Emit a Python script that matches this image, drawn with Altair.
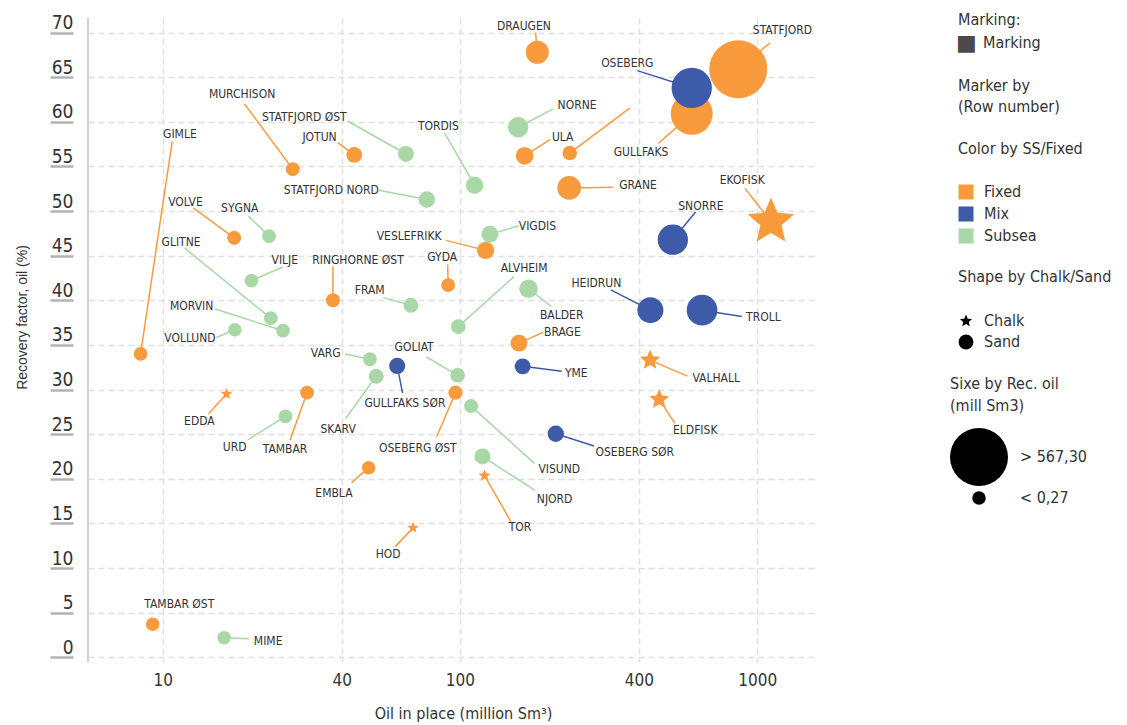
import math
import altair as alt
import pandas as pd

# ---------------- data ----------------
names = ["DRAUGEN", "STATFJORD", "OSEBERG", "GULLFAKS", "MURCHISON", "STATFJORD ØST",
         "JOTUN", "TORDIS", "NORNE", "ULA", "", "GIMLE", "GRANE", "STATFJORD NORD",
         "EKOFISK", "SNORRE", "VOLVE", "SYGNA", "VIGDIS", "VESLEFRIKK", "GLITNE", "VILJE",
         "RINGHORNE ØST", "GYDA", "ALVHEIM", "FRAM", "BALDER", "HEIDRUN", "TROLL", "MORVIN",
         "VOLLUND", "BRAGE", "VARG", "GOLIAT", "GULLFAKS SØR", "YME", "VALHALL", "EDDA",
         "SKARV", "TAMBAR", "OSEBERG ØST", "URD", "ELDFISK", "OSEBERG SØR", "VISUND",
         "EMBLA", "NJORD", "TOR", "HOD", "TAMBAR ØST", "MIME"]

oil_in_place = [182, 863, 602, 602, 27.4, 65.8, 44.1, 112, 157, 165, 234, 8.43, 233, 77.4,
                1112, 520, 17.4, 22.8, 126, 122, 23.1, 19.9, 37.4, 91.3, 98.7, 68.4, 170,
                437, 652, 25.4, 17.5, 158, 49.8, 98.2, 61.5, 162.5, 436, 16.4, 52.3, 30.6,
                96.6, 25.9, 468, 210, 109, 49.3, 119, 121, 69.5, 9.26, 16.1]

recovery = [67.8, 65.9, 63.8, 60.9, 54.7, 56.4, 56.3, 52.9, 59.4, 56.2, 56.5, 34.0, 52.6,
            51.3, 48.8, 46.8, 47.0, 47.2, 47.4, 45.6, 38.0, 42.2, 40.0, 41.7, 37.05, 39.45,
            41.3, 38.9, 38.9, 36.6, 36.7, 35.2, 33.4, 31.6, 32.65, 32.6, 33.3, 29.5, 31.5,
            29.65, 29.65, 27.0, 28.9, 25.05, 28.15, 21.25, 22.5, 20.35, 14.5, 3.7, 2.2]

rec_oil = [130, 567.3, 335, 355, 15, 45, 42, 62, 100, 68, 25, 3, 137, 52, 548, 214, 16, 11,
           58, 62, 9, 8, 16, 13, 27, 31, 78, 164, 218, 9, 6, 58, 12, 27, 48, 46, 150, 1, 32,
           9, 20, 7, 145, 50, 14, 0.5, 45, 24, 4, 0.3, 0.35]

facility = ["Fixed", "Fixed", "Mix", "Fixed", "Fixed", "Subsea", "Fixed", "Subsea", "Subsea",
            "Fixed", "Fixed", "Fixed", "Fixed", "Subsea", "Fixed", "Mix", "Fixed", "Subsea",
            "Subsea", "Fixed", "Subsea", "Subsea", "Fixed", "Fixed", "Subsea", "Subsea",
            "Subsea", "Mix", "Mix", "Subsea", "Subsea", "Fixed", "Subsea", "Subsea", "Mix",
            "Mix", "Fixed", "Fixed", "Subsea", "Fixed", "Fixed", "Subsea", "Fixed", "Mix",
            "Subsea", "Fixed", "Subsea", "Fixed", "Fixed", "Fixed", "Subsea"]

chalk_fields = ["EKOFISK", "VALHALL", "EDDA", "ELDFISK", "TOR", "HOD"]
rock = ["Chalk" if n in chalk_fields else "Sand" for n in names]

categories = ["Fixed", "Mix", "Subsea"]
palette = ["#F99A3D", "#3D5BA9", "#A8D8A6"]

x_ticks = [10, 40, 100, 400, 1000]
y_ticks = list(range(0, 75, 5))

# ---------------- label layout (pixel offsets from each marker) ----------------
# name: (text align, text dx, text dy, leader end dx, leader end dy)
label_layout = {
    "DRAUGEN": ("c", -13.4, -26.3, -1.7, -19.7),
    "STATFJORD": ("c", 44.2, -39.7, 31.7, -26.3),
    "OSEBERG": ("c", -64.5, -25, -54.4, -17.3),
    "GULLFAKS": ("c", -50.7, 38, -33.4, 29.7),
    "MURCHISON": ("c", -50.7, -74.7, -48.4, -65.3),
    "STATFJORD ØST": ("r", -59.3, -36.7, -58.3, -33),
    "JOTUN": ("r", -17.6, -18.3, -16.6, -12.3),
    "TORDIS": ("c", -36.2, -59.3, -30, -52.3),
    "NORNE": ("l", 39.4, -22, 35, -18.3),
    "ULA": ("l", 27.3, -19, 25.7, -16.4),
    "": ("l", 60, -45, 60, -45),
    "GIMLE": ("c", 39.3, -220, 31.6, -212.6),
    "GRANE": ("l", 50, -3.4, 43.7, -0.7),
    "STATFJORD NORD": ("r", -48, -10, -48, -9.3),
    "EKOFISK": ("c", -28.8, -41.4, -26, -33.4),
    "SNORRE": ("c", 28, -33.3, 22.7, -27.7),
    "VOLVE": ("c", -48.7, -35.7, -40.7, -29.7),
    "SYGNA": ("c", -29.3, -28.3, -20.7, -20),
    "VIGDIS": ("l", 29, -8.3, 28.6, -8.3),
    "VESLEFRIKK": ("r", -44, -14, -39.7, -10),
    "GLITNE": ("c", -89.7, -76, -86, -70),
    "VILJE": ("c", 33.3, -20.7, 31, -13.7),
    "RINGHORNE ØST": ("c", 25, -40.4, 0, -34),
    "GYDA": ("c", -6, -28.3, -0.6, -20.7),
    "ALVHEIM": ("c", 65.9, -58.4, 55.7, -50),
    "FRAM": ("c", -41.2, -15, -27.7, -7.6),
    "BALDER": ("c", 33.2, 26.6, 22.4, 17.3),
    "HEIDRUN": ("c", -54, -27.6, -39.6, -20.3),
    "TROLL": ("l", 44, 7, 39.7, 6.4),
    "MORVIN": ("r", -69.7, -25, -68, -21.7),
    "VOLLUND": ("r", -19.3, 8.7, -18.6, 7.7),
    "BRAGE": ("l", 25, -11, 24.3, -11),
    "VARG": ("r", -29.3, -6.6, -25, -5.3),
    "GOLIAT": ("c", -43.5, -28.3, -31, -18.3),
    "GULLFAKS SØR": ("c", 7.7, 37.3, 5.4, 27.3),
    "YME": ("l", 42.3, 6.6, 39, 5),
    "VALHALL": ("l", 42.3, 17.7, 37.3, 16),
    "EDDA": ("c", -27.1, 26.7, -18, 19.7),
    "SKARV": ("c", -38.1, 53.3, -30.6, 42.3),
    "TAMBAR": ("c", -22, 56.6, -17, 47.3),
    "OSEBERG ØST": ("c", -37.7, 55.6, -18.8, 44),
    "URD": ("r", -39, 30.7, -37.4, 23.3),
    "ELDFISK": ("c", 36, 30.7, 15.7, 24),
    "OSEBERG SØR": ("l", 39.7, 18, 38.3, 12.3),
    "VISUND": ("c", 88.2, 63.3, 63.3, 57.3),
    "EMBLA": ("c", -34.7, 25.6, -17, 15),
    "NJORD": ("c", 72.2, 42.6, 52.7, 34),
    "TOR": ("c", 35.4, 51.6, 26.4, 46),
    "HOD": ("c", -24.8, 26.6, -18, 19),
    "TAMBAR ØST": ("c", 26.6, -20, 0, 0),
    "MIME": ("l", 29.7, 3.3, 25, 1),
}

# ---------------- geometry ----------------
W, H = 729, 644
XMIN, XMAX = 5.61, 1588
YMIN, YMAX = -0.53, 71.64
PPD = W / (math.log10(XMAX) - math.log10(XMIN))   # pixels per decade
PPU = H / (YMAX - YMIN)                           # pixels per % point

rows = []
for i, n in enumerate(names):
    al, tdx, tdy, edx, edy = label_layout[n]
    x0, y0 = oil_in_place[i], recovery[i]
    rows.append({
        "name": n, "oip": x0, "rf": y0, "rec": rec_oil[i],
        "facility": facility[i], "rock": rock[i], "align": al,
        "tx": x0 * 10 ** (tdx / PPD), "ty": y0 - tdy / PPU,
        "lx": x0 * 10 ** (edx / PPD), "ly": y0 - edy / PPU,
        "has_line": bool(edx != 0 or edy != 0),
    })
df = pd.DataFrame(rows)

# five-point star path (unit box)
R_OUT, R_IN = 0.86, 0.86 * 0.46
pts = []
for k in range(10):
    a = -math.pi / 2 + k * math.pi / 5
    r = R_OUT if k % 2 == 0 else R_IN
    pts.append(f"{r*math.cos(a):.4f},{r*math.sin(a):.4f}")
STAR = "M" + "L".join(pts) + "Z"

DIN = "Liberation Sans Narrow, DejaVu Sans Condensed, Roboto Condensed, sans-serif"
TXT = "#333333"

xscale = alt.Scale(type="log", domain=[XMIN, XMAX], nice=False)
yscale = alt.Scale(domain=[YMIN, YMAX], nice=False, zero=False)
cscale = alt.Scale(domain=categories, range=palette)

x_axis = alt.Axis(values=x_ticks, format="d", grid=True, domain=False, ticks=False,
                  tickSize=0, labelFontSize=17, labelPadding=10, labelFont=DIN,
                  title="Oil in place (million Sm³)", titleFont=DIN, titleFontSize=16,
                  titleFontWeight="normal", titleX=375, titleY=51, titleBaseline="middle")
y_axis = alt.Axis(values=y_ticks, grid=True, domain=False, ticks=True, tickSize=23,
                  tickColor="#b3b3b3", tickWidth=2.5, offset=15, labelPadding=-23,
                  labelAlign="right", labelBaseline="alphabetic", labelOffset=-4,
                  labelFontSize=19, labelFont=DIN,
                  title="Recovery factor, oil (%)", titleFont="Liberation Sans",
                  titleFontSize=14, titleFontWeight="normal", titleX=-51, titleY=299,
                  titleAlign="center", titleBaseline="middle", titleAngle=-90)

color_legend = alt.Legend(
    title="Color by SS/Fixed", orient="none", legendX=870, legendY=123,
    symbolType="square", symbolSize=225, symbolStrokeWidth=0, symbolOpacity=1,
    titlePadding=27, rowPadding=6, labelOffset=10, padding=0)

base = alt.Chart(df)

lines = base.transform_filter("datum.has_line").mark_rule(strokeWidth=1.5).encode(
    x=alt.X("oip:Q", scale=xscale, axis=x_axis),
    y=alt.Y("rf:Q", scale=yscale, axis=y_axis),
    x2="lx:Q", y2="ly:Q",
    color=alt.Color("facility:N", scale=cscale, legend=color_legend),
)

points = base.mark_point(filled=True, opacity=1, strokeWidth=0).encode(
    x=alt.X("oip:Q", scale=xscale, axis=x_axis),
    y=alt.Y("rf:Q", scale=yscale, axis=y_axis),
    color=alt.Color("facility:N", scale=cscale, legend=color_legend),
    shape=alt.Shape("rock:N", scale=alt.Scale(domain=["Chalk", "Sand"], range=[STAR, "circle"]),
                    legend=alt.Legend(title="Shape by Chalk/Sand", orient="none",
                                      legendX=870, legendY=251, symbolSize=220,
                                      symbolFillColor="black", symbolStrokeColor="black",
                                      symbolStrokeWidth=0, titlePadding=28, rowPadding=5,
                                      labelOffset=10, padding=0)),
    size=alt.Size("rec:Q", scale=alt.Scale(type="pow", exponent=1.5, domain=[0.27, 567.3],
                                           range=[182, 3364], zero=False),
                  legend=alt.Legend(title=["Sixe by Rec. oil", "(mill Sm3)"], orient="none",
                                    legendX=862, legendY=358, values=[567.3, 0.27],
                                    labelExpr="datum.value > 1 ? '> 567,30' : '< 0,27'",
                                    symbolType="circle", symbolFillColor="black",
                                    symbolStrokeWidth=0, titlePadding=14, titleLineHeight=22,
                                    rowPadding=4, labelOffset=12, padding=0)),
    order=alt.Order("rec:Q", sort="descending"),
)

def labels(code, align):
    return base.transform_filter(f"datum.align == '{code}'").mark_text(
        align=align, baseline="middle", font=DIN, fontSize=12, color=TXT
    ).encode(x=alt.X("tx:Q", scale=xscale), y=alt.Y("ty:Q", scale=yscale), text="name:N")

one = pd.DataFrame({"k": [0]})
left_line = alt.Chart(one).mark_rule(color="#d0d0d0", strokeWidth=2).encode(
    x=alt.value(0), y=alt.value(0), y2=alt.value(H))

def note(text, px, py, **kw):
    style = dict(align="left", baseline="middle", font=DIN, fontSize=16, color=TXT)
    style.update(kw)
    return alt.Chart(one).mark_text(text=text, **style).encode(
        x=alt.value(px), y=alt.value(py))

notes = [
    note("Marking:", 870, 2),
    note("■", 868, 25, color="#4a4a4a", font="DejaVu Sans", fontSize=22),
    note("Marking", 895, 25),
    note("Marker by", 870, 68),
    note("(Row number)", 870, 89),
]

chart = alt.layer(lines, points, labels("c", "center"), labels("l", "left"),
                  labels("r", "right"), left_line, *notes).properties(
    width=W, height=H, autosize="none",
    padding={"left": 88, "top": 18, "right": 310, "bottom": 63},
    background="white",
).configure_view(stroke=None).configure_axis(
    labelColor=TXT, titleColor=TXT, gridColor="#e0e0e0", gridDash=[6, 4], gridWidth=1.5
).configure_legend(
    labelFont=DIN, titleFont=DIN, labelFontSize=16, titleFontSize=16,
    titleFontWeight="normal", labelColor=TXT, titleColor=TXT, titleLimit=300, labelLimit=300
)

chart.save("out.html", embed_options={"renderer": "svg", "actions": False})
